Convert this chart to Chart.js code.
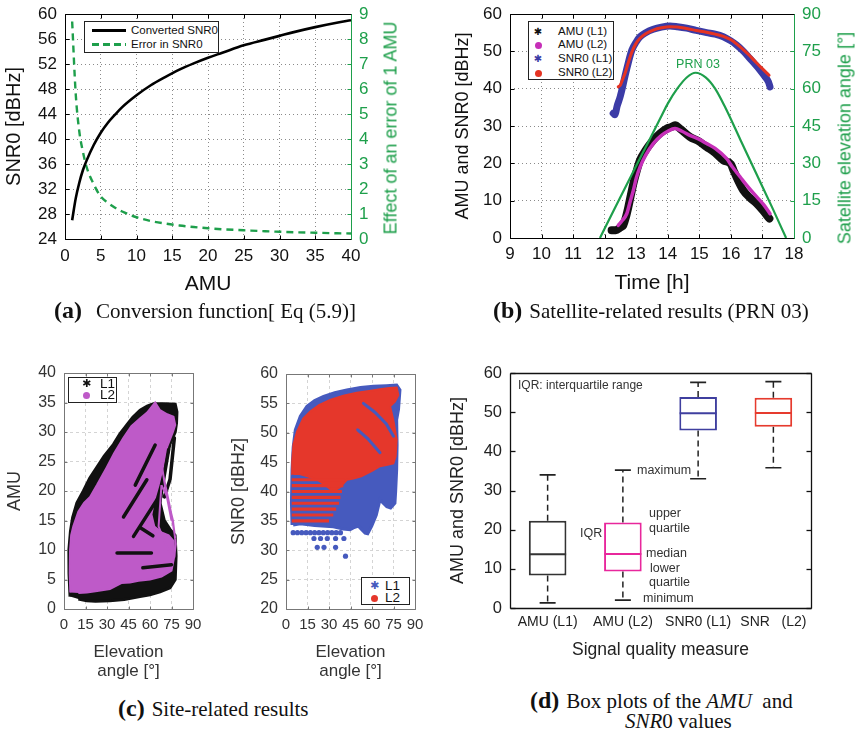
<!DOCTYPE html>
<html>
<head>
<meta charset="utf-8">
<title>AMU and SNR0</title>
<script src="https://cdn.jsdelivr.net/npm/chart.js@4.4.1/dist/chart.umd.min.js"></script>
<style>
body{margin:0;background:#fff;font-family:"Liberation Sans",Arial,sans-serif;color:#111}
#page{position:relative;width:856px;height:733px;overflow:hidden}
.box{position:absolute}
.box canvas{display:block}
.soft{filter:blur(0.45px)}
.cap{position:absolute;font-family:"Liberation Serif","Times New Roman",serif;font-size:21px;line-height:24px;white-space:nowrap;color:#111}
.cap b{font-size:24px}
.cap i{font-style:italic}
.leg{position:absolute;border:1px solid #222;background:#fff;box-sizing:border-box}
.leg div{position:absolute;white-space:nowrap;height:14px;line-height:14px}
.mk{display:inline-block;text-align:center;vertical-align:middle}
.ast{font-family:"DejaVu Sans",sans-serif;font-size:10px;line-height:10px}
.dot{display:inline-block;width:7px;height:7px;border-radius:50%;vertical-align:middle}
.vt{position:absolute;white-space:nowrap;transform:translate(-50%,-50%) rotate(-90deg);color:#1e9f4b;font-size:18px}
.note{position:absolute;font-size:12.5px;line-height:14px;white-space:nowrap;color:#333}
</style>
</head>
<body>
<div id="page">

<div class="box" style="left:0;top:0"><canvas id="chartA" width="430" height="300"></canvas></div>
<div class="box" style="left:430px;top:0"><canvas id="chartB" width="426" height="300"></canvas></div>

<div class="box soft" style="left:0;top:365px">
  <canvas id="chartC1" width="215" height="320"></canvas>
  <div class="leg" style="left:68px;top:12px;width:49px;height:26px;font-size:13.5px">
    <div style="left:10px;top:-1px"><span class="mk ast" style="width:15px;font-size:11px">✱</span><span style="margin-left:6px">L1</span></div>
    <div style="left:10px;top:10px"><span class="mk" style="width:15px"><span class="dot" style="background:#be5ac8"></span></span><span style="margin-left:6px">L2</span></div>
  </div>
</div>
<div class="box soft" style="left:215px;top:365px">
  <canvas id="chartC2" width="215" height="320"></canvas>
  <div class="leg" style="left:146px;top:212px;width:49px;height:28px;font-size:13.5px">
    <div style="left:5px;top:1px"><span class="mk ast" style="width:15px;font-size:11px;color:#465abe">✱</span><span style="margin-left:3px">L1</span></div>
    <div style="left:5px;top:13px"><span class="mk" style="width:15px"><span class="dot" style="background:#e5372b"></span></span><span style="margin-left:3px">L2</span></div>
  </div>
</div>

<div class="box" style="left:430px;top:365px"><canvas id="chartD" width="426" height="300"></canvas></div>

<!-- legends, rotated right-axis titles and notes -->
<div class="leg" style="left:84px;top:21px;width:135px;height:32px;font-size:11.5px">
  <div style="left:7px;top:1px"><span style="display:inline-block;width:34px;height:3px;background:#000;vertical-align:middle;margin-right:5px"></span>Converted SNR0</div>
  <div style="left:7px;top:15px"><span style="display:inline-block;width:34px;height:3px;background:repeating-linear-gradient(90deg,#1e9f4b 0 7px,transparent 7px 11px);vertical-align:middle;margin-right:5px"></span>Error in SNR0</div>
</div>
<div class="vt" style="left:391px;top:128px">Effect of an error of 1 AMU</div>

<div class="leg" style="left:528px;top:21px;width:86px;height:59px;font-size:11.5px">
  <div style="left:0;top:2px"><span class="mk ast" style="width:18px">✱</span><span style="margin-left:11px">AMU (L1)</span></div>
  <div style="left:0;top:15px"><span class="mk" style="width:18px"><span class="dot" style="background:#c62fb8"></span></span><span style="margin-left:11px">AMU (L2)</span></div>
  <div style="left:0;top:29px"><span class="mk ast" style="width:18px;color:#3b3ba6">✱</span><span style="margin-left:11px">SNR0 (L1)</span></div>
  <div style="left:0;top:43px"><span class="mk" style="width:18px"><span class="dot" style="background:#e53322"></span></span><span style="margin-left:11px">SNR0 (L2)</span></div>
</div>
<div class="note" style="left:698px;top:64px;transform:translate(-50%,-50%);color:#1e9f4b;font-size:12.5px">PRN 03</div>
<div class="vt" style="left:845px;top:138px">Satellite elevation angle [°]</div>

<div class="note" style="left:518px;top:378px;font-size:12px">IQR: interquartile range</div>
<div class="note" style="left:637px;top:463px">maximum</div>
<div class="note" style="left:649px;top:506px">upper</div>
<div class="note" style="left:649px;top:521px">quartile</div>
<div class="note" style="left:580px;top:526px">IQR</div>
<div class="note" style="left:646px;top:546px">median</div>
<div class="note" style="left:650px;top:561px">lower</div>
<div class="note" style="left:649px;top:575px">quartile</div>
<div class="note" style="left:643px;top:591px">minimum</div>

<!-- captions -->
<div class="cap" style="left:54px;top:298px"><b>(a)</b><span style="margin-left:14px">Conversion function[ Eq (5.9)]</span></div>
<div class="cap" style="left:493px;top:298px"><b>(b)</b><span style="margin-left:7px">Satellite-related results (PRN 03)</span></div>
<div class="cap" style="left:118px;top:696px"><b>(c)</b><span style="margin-left:7px">Site-related results</span></div>
<div class="cap" style="left:530px;top:688px"><b>(d)</b><span style="margin-left:7px">Box plots of the <i>AMU</i>&nbsp; and</span></div>
<div class="cap" style="left:625px;top:709px"><i>SNR</i>0 values</div>

</div>
<script>
/* (a) conversion function */
const aAmu   = [1,1.5,2,2.5,3,4,5,6,7,8,10,12,14,16,18,20,22,25,28,30,32,35,38,40]
const aSnr0  = [27,30.5,33,35,36.5,39,41,42.6,43.9,45.1,47,48.6,49.9,51.1,52.1,53,53.8,55,55.9,56.5,57.1,57.9,58.6,59]
const aError = [8.7,5.8,4.3,3.5,2.9,2.2,1.7,1.45,1.25,1.1,0.87,0.72,0.62,0.54,0.48,0.43,0.39,0.35,0.31,0.29,0.27,0.25,0.23,0.22]

/* (b) PRN 03 over time */
const bTimeSnrL1 = [12.27,12.32,12.4,12.49,12.57,12.64,12.75,12.86,13.0,13.12,13.3,13.54,13.8,14.07,14.3,14.6,14.9,15.23,15.5,15.76,16.0,16.18,16.4,16.6,16.8,16.92,17.1,17.19,17.24]
const bSnrL1     = [33.4,33,35.5,37.8,40.5,43.2,47,50.3,52.5,53.9,55,55.9,56.5,56.8,56.6,56.2,55.6,55,54.6,53.9,52.8,51.7,50,48.1,46.2,45,43,41.8,40.5]
const bTimeSnrL2 = [12.43,12.5,12.57,12.65,12.75,12.86,13.0,13.12,13.3,13.54,13.8,14.07,14.3,14.6,14.9,15.23,15.5,15.76,16.0,16.18,16.4,16.6,16.8,16.92,17.1,17.21]
const bSnrL2     = [40.5,41,42.5,44.2,47,49.8,52.2,53.5,54.7,55.7,56.3,56.6,56.5,56.1,55.6,55.1,54.6,54,53.1,52,50.4,48.8,47,46,44.5,43.6]
const bTimeAmuL1 = [12.22,12.35,12.5,12.59,12.67,12.75,12.83,12.91,13.0,13.12,13.3,13.54,13.75,13.97,14.1,14.23,14.4,14.7,15.0,15.23,15.5,15.76,16.0,16.08,16.25,16.39,16.6,16.82,17.0,17.22]
const bAmuL1     = [2.1,2.1,2.8,3.4,5.5,8.3,11.5,14.6,17.5,20.8,23.5,26.2,28,29.3,29.7,30.2,29.2,27.1,25.8,24.4,22.8,20.8,19.8,18.2,15,12.8,10.8,9.2,7.5,5.2]
const bTimeAmuL2 = [12.43,12.55,12.7,12.8,12.91,13.0,13.12,13.3,13.54,13.8,14.0,14.23,14.45,14.7,15.0,15.23,15.5,15.86,16.05,16.29,16.55,16.82,17.05,17.24]
const bAmuL2     = [3.4,4.6,6.5,9.5,12.8,16,19,22.2,25.3,27.5,28.6,29.3,28.6,27.5,26.4,25.3,24,21.3,19,16.4,13.6,11,8.8,6.5]
const bTimeElev  = [11.85,12.5,13.0,13.5,13.8,14.0,14.3,14.6,14.88,15.2,15.5,15.8,16.3,16.8,17.3,17.75]
const bElev      = [0,16.5,29,41.5,49,54,60,64.5,66.4,64.5,60,53,39.5,26,12.5,0]

/* (c) site results: cloud outlines (elevation, value), streaks split by null */
const c1AmuL1X = [4.2,3.5,3.4,4.5,6,9,13.5,18,22.9,28,34.5,39,43.8,48,53.1,58,62.4,70,77.6,78.8,78.5,77.6,74,71.5,68.5,67,70,74,77.5,78.2,77.6,74,67,60,53,42,32,22,15.9,10]
const c1AmuL1Y = [2.1,6,10,13.2,15.5,18,20,22.2,24,25.9,27.9,29.7,31.2,32.5,33.7,34.4,34.8,34.8,34.7,33.4,31.5,30,28,25.5,21.5,18,15,13.5,12.5,9,5,3.6,2.9,2.4,2.1,1.6,1.4,1.3,1.4,1.7]
const c1AmuL2X = [4.4,4,4.2,5,6.5,10,14,18.2,23,29.8,35,41.5,47,53,58,63.6,67,72,76.4,77.6,76,72,69,66,63,61,63,68,73,76.5,77,75,68,60,52,46,40,32,22,15.9,10]
const c1AmuL2Y = [2.8,6,10,12.5,14,16.5,18,19,21,24,26.4,29,31,32.3,33.3,35,33.7,33,32.6,31.2,30,27.5,24,21,18.5,16,14,13,12.5,11.5,9,6.5,5.5,5,4.8,4.5,4.4,3.4,3,2.8,2.7]
const c1StreakX = [63.6,49.7,null,57.8,41.5,null,64.8,48.5,null,37,61,null,53,62,null,77,74,70,null,73,66,null,55,75]
const c1StreakY = [27.8,21,null,21.9,15.6,null,18.5,12.3,null,9.5,9.5,null,13.8,12.4,null,29,22,19,null,27,17,null,7,7.5]
const c1LoopX = [66,71,75,null,68,72,76,78,77,73,69,66,68,null,69,75,77.6]
const c1LoopY = [28,20,15,null,21,19,15,11,9,10,12,14,21,null,23,16,12]

const c2SnrL1X = [4.2,3.8,4.2,5,6.5,10,14.6,20,26.2,34,42.4,52,61,70,77.2,79.5,78.5,77.2,77.5,77.2,76.5,76,73,70.3,67,65.6,63,59.8,57,55.2,52.5,50.5,47,44.7,40,33,20,10,5]
const c2SnrL1Y = [34.3,38,43.7,47.5,50.5,52.8,54.5,55.5,56.2,56.8,57.3,57.7,57.9,58,58.1,57.3,54,52.2,48,43.7,40,38,37.2,37.4,38.2,38.6,36,34.1,32.8,32.9,33.6,34.1,33.8,33.5,33.6,34,34.2,34.5,34.3]
const c2SnrL2X = [4.6,4.3,5.2,7.7,12,16.9,23,30.8,40,49.4,58,65.6,72,77.2,78.4,76,72.6,75,77.2,76.5,74.9,70,65.6,60,52.5,47,42.4,38,33.1,28,22,15,9,5]
const c2SnrL2Y = [43,45,48,50.2,52.4,53.6,54.7,55.6,56.3,56.8,57.1,57.4,57.6,57.7,56.4,55.3,54.5,52,48.8,46,44.8,44.5,44.3,43.5,42.6,42.2,42,40.8,40,41,42,42.6,43,43]
const c2RowsY   = [35,36,37,38,39,40,41,42]
const c2RowsEnd = [30,33,35,37,38,39,40,41]
const c2DotsX = [5,8,11,14,17,20,23,26,29,32,35,38,19.5,24.1,28.8,34.6,40.4,21.8,26.5,34.6,41.5]
const c2DotsY = [33,33,33,33,33,33,33,33,33,33,33,33,32,32,32,32,32,30.5,30.5,30.5,29]
const c2StreakX = [54,62,70,75,null,50,57,65.6]
const c2StreakY = [55,53.5,51.5,49.4,null,50.5,49,46.6]

/* (d) box plots */
const dCats   = ['AMU (L1)','AMU (L2)','SNR0 (L1)','SNR   (L2)']
const dMin    = [1.3,2.0,33.0,35.8]
const dQ1     = [8.3,9.3,45.3,46.3]
const dMedian = [13.7,13.8,49.7,49.8]
const dQ3     = [22.3,21.8,53.9,53.7]
const dMax    = [34.0,35.2,57.6,57.8]
const dColors = ['#333333','#e8279c','#3f3f9f','#e63b2e']

const GREEN = '#1e9f4b'

const pts = (xs, ys) => xs.map((x, i) => ({x: x, y: ys[i]}))
// first entry ends up at the bottom of the stack
const layered = list => list.map((d, i) => Object.assign(d, {order: list.length - i}))

function fitW(w){ return s => { s.width = w; s.paddingTop = s.paddingBottom = s.paddingLeft = s.paddingRight = 0 } }
function fitH(h){ return s => { s.height = h; s.paddingTop = s.paddingBottom = s.paddingLeft = s.paddingRight = 0 } }

/* box round the plot area with short inward ticks */
const frame = {
  id:'frame',
  afterDatasetsDraw(chart, args, o){
    if(!o.color) return
    const {ctx, chartArea:a, scales} = chart
    const h = v => Math.round(v) + 0.5
    const len = o.tick || 0
    const line = (x1,y1,x2,y2,c) => { ctx.strokeStyle = c; ctx.beginPath(); ctx.moveTo(x1,y1); ctx.lineTo(x2,y2); ctx.stroke() }
    const L = h(a.left), R = h(a.right), T = h(a.top), B = h(a.bottom)
    ctx.save()
    ctx.lineWidth = o.width || 1
    if(len && o.xTicks !== false) scales.x.ticks.forEach(t => {
      const p = h(scales.x.getPixelForValue(t.value))
      line(p,B,p,B-len,o.color)
      line(p,T,p,T+len,o.color)
    })
    if(len) scales.y.ticks.forEach(t => {
      const p = h(scales.y.getPixelForValue(t.value))
      line(L,p,L+len,p,o.color)
      line(R,p,R-len,p,o.right || o.color)
    })
    line(L,T,R,T,o.color)
    line(L,B,R,B,o.color)
    line(L,T,L,B,o.color)
    line(R,T,R,B,o.right || o.color)
    ctx.restore()
  }
}

Chart.defaults.font.family = "'Liberation Sans', Arial, sans-serif"
Chart.defaults.color = '#111'
Chart.defaults.animation = false
Chart.defaults.layout.autoPadding = false
Chart.defaults.plugins.legend.display = false
Chart.defaults.plugins.tooltip.enabled = false
Chart.defaults.elements.point.radius = 0
Chart.register(frame)

const dotted = {grid:{color:'#8a8a8a',drawTicks:false}, border:{display:false,dash:[1,3]}}

/* (a) */
new Chart(document.getElementById('chartA'), {
  type:'line',
  data:{datasets: layered([
    {data:pts(aAmu,aError), borderColor:GREEN, borderWidth:2.4, borderDash:[7,5], yAxisID:'y2', cubicInterpolationMode:'monotone'},
    {data:pts(aAmu,aSnr0), borderColor:'#000', borderWidth:2.6, yAxisID:'y', cubicInterpolationMode:'monotone'}
  ])},
  options:{
    responsive:false,
    layout:{padding:{top:14}},
    scales:{
      x:{type:'linear',min:0,max:40, ...dotted,
         ticks:{stepSize:5,padding:7,font:{size:17}},
         title:{display:true,text:'AMU',font:{size:21},padding:{top:0,bottom:3}},
         afterFit:fitH(61)},
      y:{min:24,max:60, ...dotted,
         ticks:{stepSize:4,padding:8,font:{size:17}},
         title:{display:true,text:'SNR0 [dBHz]',font:{size:20},padding:{top:2,bottom:0}},
         afterFit:fitW(65)},
      y2:{position:'right',min:0,max:9,
         grid:{display:false,drawTicks:false}, border:{display:false},
         ticks:{stepSize:1,padding:8,color:GREEN,font:{size:17}},
         afterFit:fitW(79)}
    },
    plugins:{frame:{color:'#000',right:GREEN,tick:4}}
  }
})

/* (b) */
const band = {cubicInterpolationMode:'monotone', borderCapStyle:'round', borderJoinStyle:'round'}
new Chart(document.getElementById('chartB'), {
  type:'line',
  data:{datasets: layered([
    {data:pts(bTimeAmuL1,bAmuL1), borderColor:'#111', borderWidth:8, ...band},
    {data:pts(bTimeAmuL2,bAmuL2), borderColor:'#c62fb8', borderWidth:3.5, ...band},
    {data:pts(bTimeSnrL1,bSnrL1), borderColor:'#3b3ba6', borderWidth:7, ...band},
    {data:pts(bTimeSnrL2,bSnrL2), borderColor:'#e53322', borderWidth:3, ...band},
    {data:pts(bTimeElev,bElev), borderColor:GREEN, borderWidth:2.2, yAxisID:'y2', cubicInterpolationMode:'monotone'}
  ])},
  options:{
    responsive:false,
    layout:{padding:{top:14}},
    scales:{
      x:{type:'linear',min:9,max:18, ...dotted,
         ticks:{stepSize:1,padding:6,font:{size:17}},
         title:{display:true,text:'Time [h]',font:{size:21},padding:{top:0,bottom:4}},
         afterFit:fitH(62)},
      y:{min:0,max:60, ...dotted,
         ticks:{stepSize:10,padding:8,font:{size:17}},
         title:{display:true,text:'AMU and SNR0 [dBHz]',font:{size:18},padding:{top:22,bottom:0}},
         afterFit:fitW(80)},
      y2:{position:'right',min:0,max:90,
         grid:{display:false,drawTicks:false}, border:{display:false},
         ticks:{stepSize:15,padding:8,color:GREEN,font:{size:17}},
         afterFit:fitW(62)}
    },
    plugins:{frame:{color:'#000',right:GREEN,tick:4}}
  }
})

/* (c) shared axis styling */
function siteScales(yMin, yMax, yTitle, yWidth, titlePad){
  const light = {grid:{color:'#d4d4d4',drawTicks:false}, border:{display:false,dash:[3,3]}}
  return {
    x:{type:'linear',min:0,max:90, ...light,
       ticks:{stepSize:15,padding:7,autoSkip:false,maxRotation:0,color:'#333',font:{size:15}},
       title:{display:true,text:['Elevation','angle [°]'],color:'#333',font:{size:17,lineHeight:1.12},padding:{top:0,bottom:4}},
       afterFit:fitH(76)},
    y:{min:yMin,max:yMax, ...light,
       ticks:{stepSize:5,padding:8,color:'#333',font:{size:16}},
       title:{display:true,text:yTitle,color:'#333',font:{size:18},padding:{top:titlePad,bottom:0}},
       afterFit:fitW(yWidth)}
  }
}
const rows = []
c2RowsY.forEach((y, i) => { rows.push({x:4,y:y}, {x:c2RowsEnd[i],y:y}, {x:c2RowsEnd[i],y:null}) })

new Chart(document.getElementById('chartC1'), {
  type:'line',
  data:{datasets: layered([
    {data:pts(c1AmuL1X,c1AmuL1Y), fill:'shape', backgroundColor:'#111', borderColor:'#111', borderWidth:3},
    {data:pts(c1AmuL2X,c1AmuL2Y), fill:'shape', backgroundColor:'#be5ac8', borderColor:'#be5ac8', borderWidth:2},
    {data:pts(c1StreakX,c1StreakY), borderColor:'#111', borderWidth:3.5, borderCapStyle:'round'},
    {data:pts(c1LoopX,c1LoopY), borderColor:'#be5ac8', borderWidth:2}
  ])},
  options:{
    responsive:false,
    layout:{padding:{top:8,right:22}},
    scales:siteScales(0,40,'AMU',64,4),
    plugins:{frame:{color:'#777',tick:3}}
  }
})

new Chart(document.getElementById('chartC2'), {
  type:'line',
  data:{datasets: layered([
    {data:pts(c2SnrL1X,c2SnrL1Y), fill:'shape', backgroundColor:'#465abe', borderColor:'#465abe', borderWidth:3},
    {data:pts(c2DotsX,c2DotsY), showLine:false, pointRadius:2.6, pointBackgroundColor:'#465abe', pointBorderWidth:0},
    {data:pts(c2SnrL2X,c2SnrL2Y), fill:'shape', backgroundColor:'#e5372b', borderColor:'#e5372b', borderWidth:2},
    {data:rows, borderColor:'#e5372b', borderWidth:3.2},
    {data:pts(c2StreakX,c2StreakY), borderColor:'#465abe', borderWidth:3, borderCapStyle:'round'}
  ])},
  options:{
    responsive:false,
    layout:{padding:{top:9,right:15}},
    scales:siteScales(20,60,'SNR0 [dBHz]',71,13),
    plugins:{frame:{color:'#777',tick:3}}
  }
})

/* (d) box plots: box = floating bar, whiskers and caps as lines/points */
const whiskers = []
dCats.forEach((c, i) => {
  whiskers.push({x:c,y:dQ3[i]}, {x:c,y:dMax[i]}, {x:c,y:null}, {x:c,y:dQ1[i]}, {x:c,y:dMin[i]}, {x:c,y:null})
})
new Chart(document.getElementById('chartD'), {
  type:'bar',
  data:{labels:dCats, datasets: layered([
    {type:'line', data:whiskers, borderColor:'#222', borderWidth:1.5, borderDash:[6,4]},
    {type:'line', data:dMax, showLine:false, pointStyle:'line', pointRadius:8, pointBorderWidth:1.6, pointBorderColor:'#222'},
    {type:'line', data:dMin, showLine:false, pointStyle:'line', pointRadius:8, pointBorderWidth:1.6, pointBorderColor:'#222'},
    {type:'bar', data:dQ1.map((q, i) => [q, dQ3[i]]), backgroundColor:'#fff', borderColor:dColors, borderWidth:2, borderSkipped:false, barPercentage:0.5, categoryPercentage:1},
    {type:'line', data:dMedian, showLine:false, pointStyle:'line', pointRadius:18.5, pointBorderWidth:2, pointBorderColor:dColors}
  ])},
  options:{
    responsive:false,
    layout:{padding:{top:8,right:45}},
    scales:{
      x:{grid:{display:false,drawTicks:false}, border:{display:false},
         ticks:{padding:6,color:'#222',font:{size:14}},
         title:{display:true,text:'Signal quality measure',color:'#222',font:{size:17.5},padding:{top:0,bottom:4}},
         afterFit:fitH(57)},
      y:{min:0,max:60, grid:{display:false,drawTicks:false}, border:{display:false},
         ticks:{stepSize:10,padding:8,color:'#222',font:{size:16.5}},
         title:{display:true,text:'AMU and SNR0 [dBHz]',color:'#222',font:{size:18},padding:{top:17,bottom:0}},
         afterFit:fitW(80)}
    },
    plugins:{frame:{color:'#111',width:1.3,tick:5,xTicks:false}}
  }
})
</script>
</body>
</html>
